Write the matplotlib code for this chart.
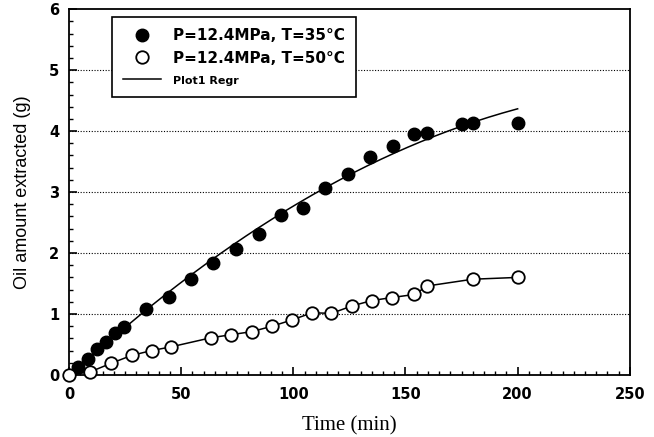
import matplotlib
matplotlib.use('Agg')
import matplotlib.pyplot as plt
import numpy as np
from matplotlib.lines import Line2D
from matplotlib.ticker import MultipleLocator

# P=12.4MPa, T=35C (filled)
t35 = [4, 8.5, 12.5, 16.5, 20.5, 24.5, 34.3, 44.6, 54.4, 64.2, 74.4, 84.5, 94.5,
       104.3, 114, 124.3, 134.3, 144.3, 154, 159.8, 175, 180, 200]
y35 = [0.13, 0.26, 0.43, 0.54, 0.69, 0.79, 1.08, 1.28, 1.57, 1.84, 2.06, 2.32, 2.63,
       2.74, 3.06, 3.30, 3.58, 3.76, 3.95, 3.97, 4.12, 4.13, 4.13]

# P=12.4MPa, T=50C (open)
t50 = [0, 9.4, 18.7, 27.9, 36.8, 45.4, 63.3, 72.2, 81.4, 90.6, 99.2, 108.4, 117,
       126, 134.9, 144, 153.9, 159.8, 179.9, 200]
y50 = [0.0, 0.05, 0.19, 0.32, 0.40, 0.46, 0.61, 0.66, 0.71, 0.80, 0.90, 1.02, 1.01,
       1.13, 1.22, 1.27, 1.32, 1.46, 1.57, 1.60]

fig = plt.figure(figsize=(6.54, 4.37), dpi=100)
ax = fig.add_axes([0.1055, 0.142, 0.8575, 0.837])

# regression curve for the 35C series
coef = np.polyfit(t35, y35, 2)
tf = np.linspace(1, 200, 200)
ax.plot(tf, np.polyval(coef, tf), color='black', lw=1.1, zorder=2)
ax.plot(t35, y35, 'o', color='black', ms=9, zorder=3, clip_on=False)

ax.plot(t50, y50, '-o', color='black', lw=1.1, ms=9, mfc='white', mec='black',
        mew=1.3, zorder=3, clip_on=False)

ax.set_xlim(0, 250)
ax.set_ylim(0, 6)
ax.xaxis.set_major_locator(MultipleLocator(50))
ax.xaxis.set_minor_locator(MultipleLocator(5))
ax.yaxis.set_major_locator(MultipleLocator(1))
ax.yaxis.set_minor_locator(MultipleLocator(0.2))
ax.tick_params(which='both', direction='in', top=False, right=False)
ax.tick_params(which='major', length=6, width=1.2, labelsize=10.5)
ax.tick_params(which='minor', length=3, width=1)
ax.tick_params(axis='x', which='major', pad=9)
ax.tick_params(axis='y', which='major', pad=7)
for lab in ax.get_xticklabels() + ax.get_yticklabels():
    lab.set_fontweight('bold')
for s in ax.spines.values():
    s.set_linewidth(1.3)

for yv in [1, 2, 3, 4, 5]:
    ax.axhline(yv, color='black', ls=(0, (1, 1.5)), lw=0.8, zorder=1)

ax.set_xlabel('Time (min)', family='Liberation Serif', fontsize=15, labelpad=10)
ax.set_ylabel('Oil amount extracted (g)', family='Liberation Sans', fontsize=13,
              labelpad=13)

handles = [
    Line2D([], [], ls='', marker='o', color='black', ms=9),
    Line2D([], [], ls='', marker='o', mfc='white', mec='black', mew=1.3, ms=9),
    Line2D([], [], color='black', lw=1.1),
]
labels = ['P=12.4MPa, T=35°C', 'P=12.4MPa, T=50°C', 'Plot1 Regr']
leg = ax.legend(handles, labels, loc='upper left', bbox_to_anchor=(0.077, 0.978),
                borderaxespad=0, fancybox=False, edgecolor='black', framealpha=1,
                prop={'weight': 'bold', 'size': 11}, handlelength=2.5,
                labelspacing=0.5, borderpad=0.7, handletextpad=0.8)
leg.get_frame().set_linewidth(1.2)
leg.get_texts()[2].set_fontsize(8)

fig.savefig('out.png', dpi=100)
